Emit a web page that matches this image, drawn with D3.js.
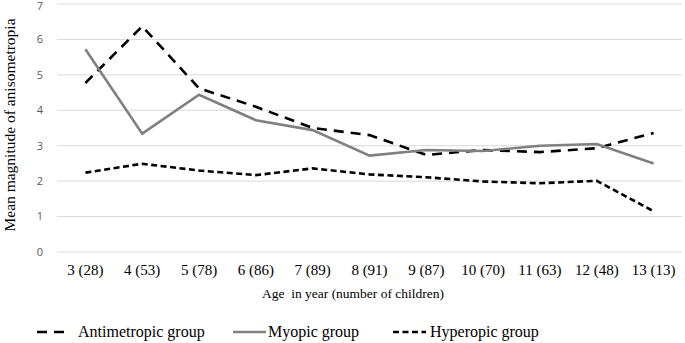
<!DOCTYPE html>
<html>
<head>
<meta charset="utf-8">
<script src="https://cdn.jsdelivr.net/npm/d3@7"></script>
<style>
	body { margin: 0; background: #fff; }
	.tick_y { font-family: "Open Sans", "Liberation Sans", sans-serif; font-size: 11px; fill: #595959; }
	.serif { font-family: "Liberation Serif", "DejaVu Serif", serif; fill: #000; }
</style>
</head>
<body>
<div id="chart"></div>
<script>
// categories: age (number of children)
const ages = ["3 (28)", "4 (53)", "5 (78)", "6 (86)", "7 (89)", "8 (91)", "9 (87)", "10 (70)", "11 (63)", "12 (48)", "13 (13)"];
const antimetropic = [4.77, 6.37, 4.62, 4.1, 3.5, 3.3, 2.74, 2.88, 2.82, 2.93, 3.36];
const myopic = [5.72, 3.34, 4.44, 3.72, 3.44, 2.72, 2.88, 2.85, 3.0, 3.05, 2.5];
const hyperopic = [2.24, 2.49, 2.3, 2.17, 2.36, 2.19, 2.11, 1.99, 1.94, 2.01, 1.15];
const y_ticks = [0, 1, 2, 3, 4, 5, 6, 7];

const series = [
	{ name: "Antimetropic group", values: antimetropic, color: "#000", dash: "10,7", legend_x: 37, gap: 8 },
	{ name: "Myopic group", values: myopic, color: "#808080", dash: null, legend_x: 233, gap: 2 },
	{ name: "Hyperopic group", values: hyperopic, color: "#000", dash: "6,3.5", legend_x: 393, gap: 4 }
];

const W = 685, H = 343;
const margin = { top: 4, right: 3, bottom: 91, left: 57 };
const width = W - margin.left - margin.right;
const height = H - margin.top - margin.bottom;

const svg = d3.select("#chart").append("svg")
	.attr("width", W)
	.attr("height", H);

const g = svg.append("g")
	.attr("transform", `translate(${margin.left},${margin.top})`);

const x = d3.scaleBand()
	.domain(ages)
	.range([0, width]);

const y = d3.scaleLinear()
	.domain([0, 7])
	.range([height, 0]);

// gridlines
g.selectAll(".grid")
	.data(y_ticks)
	.enter()
	.append("line")
	.attr("x1", 0)
	.attr("x2", width)
	.attr("y1", d => y(d))
	.attr("y2", d => y(d))
	.attr("stroke", "#d9d9d9")
	.attr("stroke-width", 1);

// y tick labels (top one nudged down so it isn't clipped)
g.selectAll(".tick_y")
	.data(y_ticks)
	.enter()
	.append("text")
	.attr("class", "tick_y")
	.attr("x", -14)
	.attr("y", d => y(d))
	.attr("dy", d => d === 7 ? "0.55em" : "0.35em")
	.attr("text-anchor", "end")
	.text(d => d);

// x tick labels
g.selectAll(".tick_x")
	.data(ages)
	.enter()
	.append("text")
	.attr("class", "serif")
	.attr("x", d => x(d) + x.bandwidth() / 2)
	.attr("y", height + 23)
	.attr("text-anchor", "middle")
	.style("font-size", "15px")
	.text(d => d);

// axis titles
svg.append("text")
	.attr("class", "serif")
	.attr("x", 353)
	.attr("y", 298)
	.attr("text-anchor", "middle")
	.style("font-size", "13.5px")
	.style("white-space", "pre")
	.text("Age  in year (number of children)");

svg.append("text")
	.attr("class", "serif")
	.attr("transform", `translate(15, 125) rotate(-90)`)
	.attr("text-anchor", "middle")
	.style("font-size", "15.5px")
	.text("Mean magnitude of anisometropia");

// lines
const line = d3.line()
	.x((d, i) => x(ages[i]) + x.bandwidth() / 2)
	.y(d => y(d));

series.forEach(s => {
	g.append("path")
		.datum(s.values)
		.attr("fill", "none")
		.attr("stroke", s.color)
		.attr("stroke-width", 2.6)
		.attr("stroke-dasharray", s.dash)
		.attr("d", line);
});

// legend
const legend = svg.append("g")
	.attr("transform", `translate(0, 332)`);

series.forEach(s => {
	legend.append("line")
		.attr("x1", s.legend_x)
		.attr("x2", s.legend_x + 33)
		.attr("y1", 0)
		.attr("y2", 0)
		.attr("stroke", s.color)
		.attr("stroke-width", 2.6)
		.attr("stroke-dasharray", s.dash);
	legend.append("text")
		.attr("class", "serif")
		.attr("x", s.legend_x + 33 + s.gap)
		.attr("y", 0)
		.attr("dy", "0.33em")
		.style("font-size", "16px")
		.text(s.name);
});
</script>
</body>
</html>
